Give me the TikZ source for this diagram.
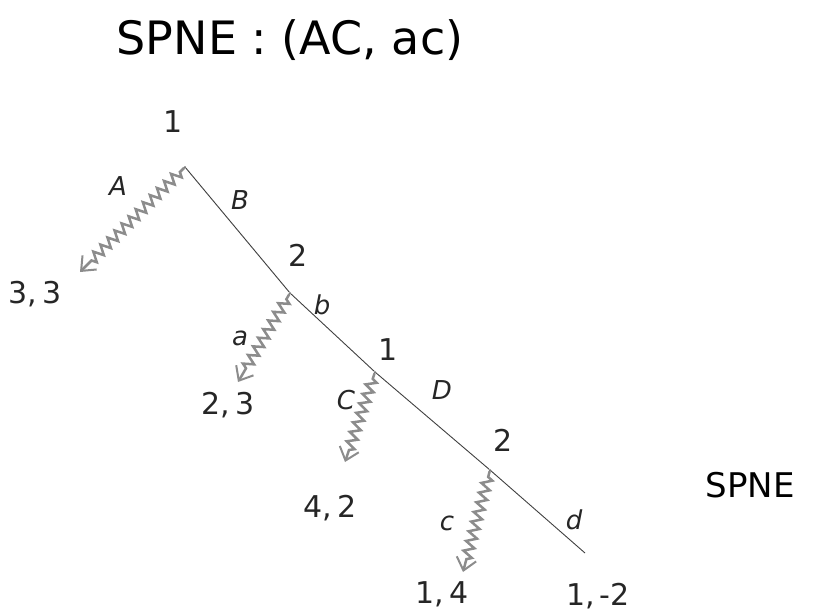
\documentclass[tikz,border=0pt]{standalone}
\usepackage{fontspec}
\setmainfont{DejaVu Sans}
\usetikzlibrary{decorations.pathmorphing,arrows.meta}
\begin{document}
\begin{tikzpicture}[x=1pt,y=-1pt,
  edge/.style={draw=black!75,line width=0.9pt},
  chosen/.style={draw=black!45,line width=2.5pt,-{Straight Barb[length=12pt,width=20pt,line width=2pt]},
    decorate,decoration={zigzag,segment length=10pt,amplitude=5pt,pre length=6pt,post length=12pt}},
  lbl/.style={font=\fontsize{26}{28}\selectfont\itshape,text=black!85},
  pay/.style={font=\fontsize{30}{32}\selectfont,text=black!85},
  dot/.style={circle,inner sep=0pt,minimum size=2pt,fill=black!70}]
\useasboundingbox (0,0) rectangle (820,611);
\node[font=\fontsize{46}{48}\selectfont] (title) at (290,40) {SPNE : (AC, ac)};
% nodes
\node[dot] (n1) at (185,167) {};
\node[dot] (n2) at (290,293) {};
\node[dot] (n3) at (375,372) {};
\node[dot] (n4) at (490,470) {};
\coordinate (t1) at (80,272);
\coordinate (t2) at (238,382);
\coordinate (t3) at (345,462);
\coordinate (t4) at (463,572);
\coordinate (t5) at (585,553);
% player labels
\node[pay] (p1) at (173,122) {1};
\node[pay] (p2) at (298,255) {2};
\node[pay] (p3) at (388,350) {1};
\node[pay] (p4) at (503,440) {2};
% edges
\draw[edge] (n1) -- (n2);
\draw[edge] (n2) -- (n3);
\draw[edge] (n3) -- (n4);
\draw[edge] (n4) -- (t5);
\draw[chosen] (n1) -- (t1);
\draw[chosen] (n2) -- (t2);
\draw[chosen] (n3) -- (t3);
\draw[chosen] (n4) -- (t4);
% action labels
\node[lbl] (lA) at (118,186) {A};
\node[lbl] (lB) at (240,200) {B};
\node[lbl] (la) at (240,338) {a};
\node[lbl] (lb) at (322,305) {b};
\node[lbl] (lC) at (346,400) {C};
\node[lbl] (lD) at (442,390) {D};
\node[lbl] (lc) at (447,523) {c};
\node[lbl] (ld) at (574,520) {d};
% payoffs
\node[pay] (o1) at (35,294) {3,\,3};
\node[pay] (o2) at (228,405) {2,\,3};
\node[pay] (o3) at (330,508) {4,\,2};
\node[pay] (o4) at (442,594) {1,\,4};
\node[pay] (o5) at (598,596) {1,\,-2};
\node[font=\fontsize{34}{36}\selectfont] (spne) at (750,485) {SPNE};
\end{tikzpicture}
\end{document}
